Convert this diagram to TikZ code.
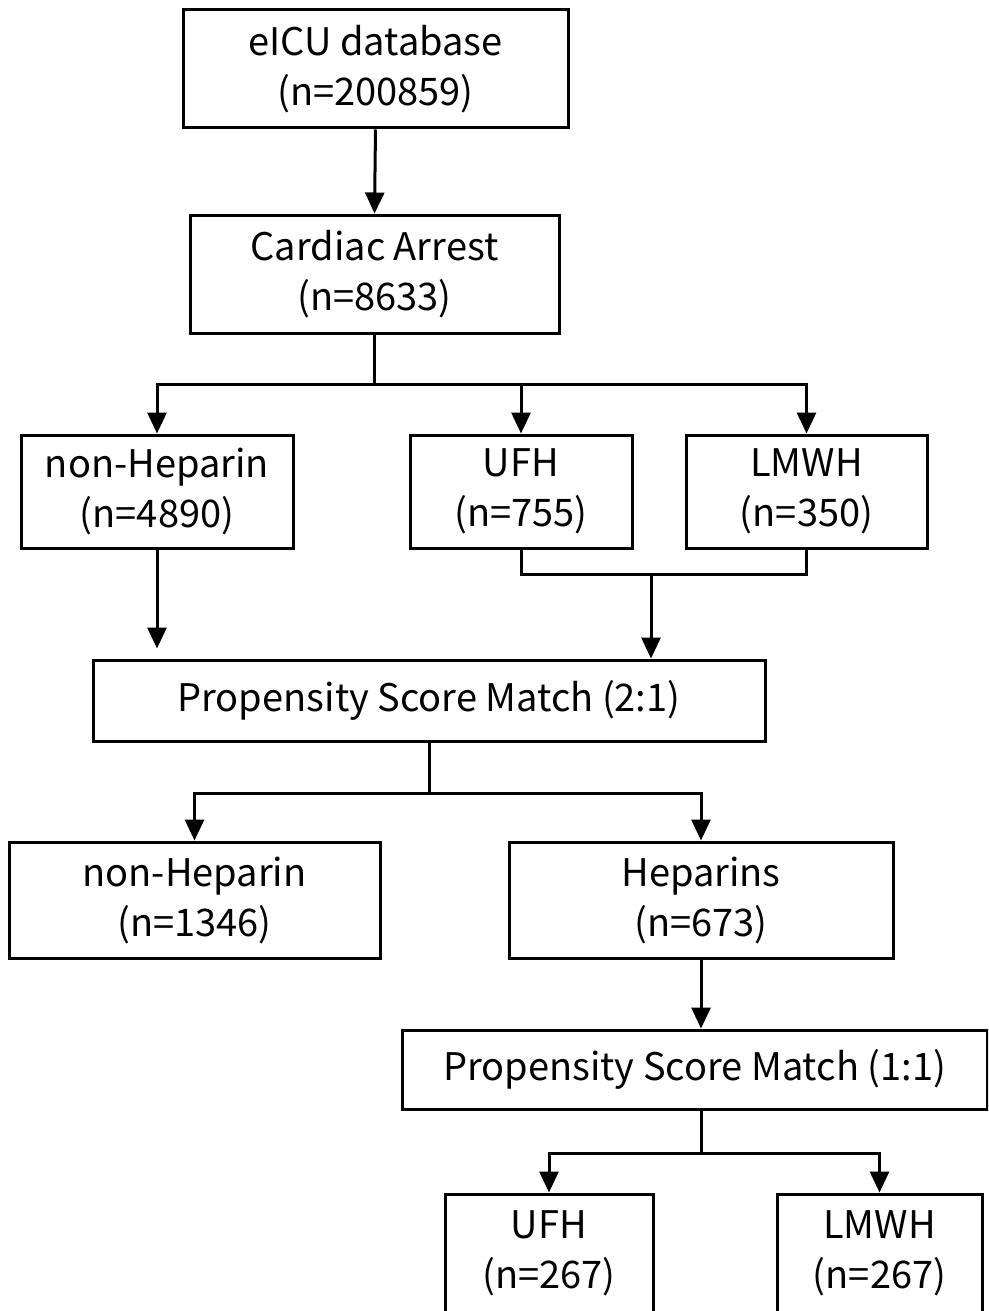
\documentclass[tikz,border=0pt]{standalone}
\usepackage{fontspec}
\setmainfont{Noto Sans CJK SC}
\usepackage{tikz}
\usetikzlibrary{arrows.meta,positioning,calc}
\definecolor{Ink}{HTML}{000000}

\tikzset{
  stagebox/.style={draw=Ink,line width=3pt,align=center,inner sep=0pt,
    font=\fontsize{38}{50}\selectfont},
  flow/.style={Ink,line width=3pt},
  flowarrow/.style={flow,-{Triangle[width=19pt,length=21pt]}}
}

\begin{document}
\begin{tikzpicture}[x=1pt,y=-1pt]
        \useasboundingbox (0,0) rectangle (988,1311);
        \fill[white] (0,0) rectangle (988,1311);
        \clip (0,0) rectangle (988,1311);
        % first stage
        \node[stagebox,minimum width=385pt,minimum height=118pt] (db) at (375.5,69)
              {eICU database\\(n=200859)};
        \node[stagebox,minimum width=369pt,minimum height=118pt] (ca) at (374.5,274)
              {Cardiac Arrest\\(n=8633)};
        \node[stagebox,minimum width=272pt,minimum height=113pt] (nonhep) at (157,491.5)
              {non-Heparin\\(n=4890)};
        \node[stagebox,minimum width=222pt,minimum height=113pt] (ufh) at (521,491.5)
              {UFH\\(n=755)};
        \node[stagebox,minimum width=241pt,minimum height=113pt] (lmwh) at (806.5,491.5)
              {LMWH\\(n=350)};
        \node[stagebox,minimum width=672pt,minimum height=81pt] (psm) at (429,700.5)
              {Propensity Score Match (2:1)};
        % matched groups
        \node[stagebox,minimum width=371pt,minimum height=116pt] (nonhepm) at (194.5,900)
              {non-Heparin\\(n=1346)};
        \node[stagebox,minimum width=384pt,minimum height=116pt] (hep) at (701,900)
              {Heparins\\(n=673)};
        \node[stagebox,minimum width=585pt,minimum height=79pt] (psmb) at (694.5,1069.5)
              {Propensity Score Match (1:1)};
        \node[stagebox,minimum width=208pt,minimum height=118pt] (ufhm) at (549,1253)
              {UFH\\(n=267)};
        \node[stagebox,minimum width=205pt,minimum height=118pt] (lmwhm) at (879.5,1253)
              {LMWH\\(n=267)};
        % connectors
        \draw[flowarrow] (db.south) -- (ca.north);
        \coordinate (split) at ($(ca.south)+(0,50)$);
        \draw[flow] (ca.south) -- (split);
        \draw[flowarrow] (split) -| (nonhep.north);
        \draw[flowarrow] (split) -| (ufh.north);
        \draw[flowarrow] (split) -| (lmwh.north);
        \coordinate (merge) at (651,574);
        \draw[flow] (ufh.south) |- (merge) -| (lmwh.south);
        \draw[flowarrow] (merge) -- (merge |- psm.north);
        \draw[flowarrow,shorten >=10pt] (nonhep.south) -- (nonhep.south |- psm.north);
        \coordinate (split2) at ($(psm.south)+(0,51)$);
        \draw[flow] (psm.south) -- (split2);
        \draw[flowarrow] (split2) -| (nonhepm.north);
        \draw[flowarrow] (split2) -| (hep.north);
        \draw[flowarrow] (hep.south) -- (hep.south |- psmb.north);
        \coordinate (split3) at ($(hep.south |- psmb.south)+(0,43)$);
        \draw[flow] (hep.south |- psmb.south) -- (split3);
        \draw[flowarrow] (split3) -| (ufhm.north);
        \draw[flowarrow] (split3) -| (lmwhm.north);
      \end{tikzpicture}
\end{document}
